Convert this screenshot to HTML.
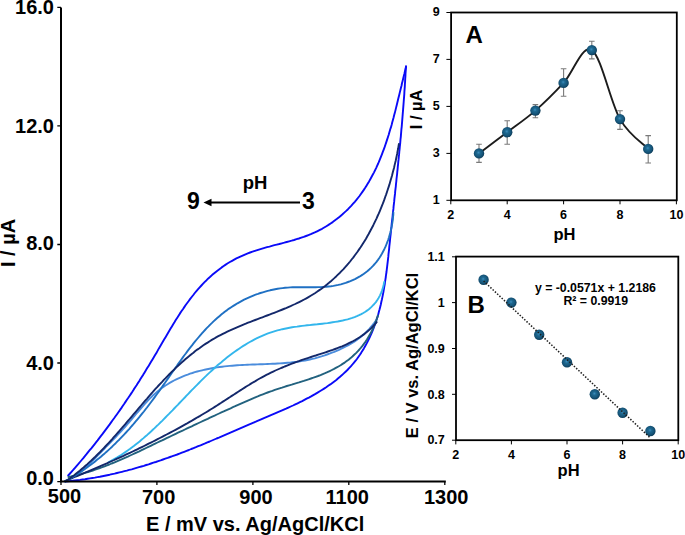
<!DOCTYPE html>
<html><head><meta charset="utf-8">
<style>
html,body{margin:0;padding:0;background:#fff;}
body{width:685px;height:535px;overflow:hidden;}
svg{display:block;}
text{font-family:"Liberation Sans",sans-serif;font-weight:bold;fill:#000;}
</style></head>
<body>
<svg width="685" height="535" viewBox="0 0 685 535">
<defs>
<radialGradient id="sph" cx="0.45" cy="0.45" r="0.56" fx="0.46" fy="0.42">
<stop offset="0" stop-color="#3c8dbd"/>
<stop offset="0.3" stop-color="#1e6890"/>
<stop offset="0.7" stop-color="#165579"/>
<stop offset="0.9" stop-color="#0f4464"/>
<stop offset="1" stop-color="#0c3a55"/>
</radialGradient>
</defs>

<g fill="none" stroke-width="1.9" stroke-linejoin="round" stroke-linecap="round">
<path stroke="#0a0af8" d="M68.2 475.5 70.0 473.5 71.7 471.6 73.4 469.7 75.0 467.8 76.7 465.8 78.4 463.9 80.0 462.0 81.7 460.0 83.3 458.1 84.9 456.1 86.5 454.2 88.1 452.2 89.7 450.2 91.3 448.3 92.9 446.3 94.5 444.3 96.0 442.4 97.6 440.4 99.1 438.4 100.6 436.4 102.2 434.4 103.7 432.4 105.2 430.4 106.7 428.4 108.2 426.4 109.7 424.4 111.1 422.4 112.6 420.3 114.1 418.3 115.5 416.3 117.0 414.2 118.4 412.2 119.9 410.1 121.3 408.1 122.7 406.0 124.1 404.0 125.5 401.9 126.9 399.8 128.3 397.8 129.7 395.7 131.1 393.6 132.5 391.5 133.8 389.4 135.2 387.3 136.6 385.2 137.9 383.1 139.3 381.0 140.6 378.8 141.9 376.7 143.3 374.6 144.6 372.4 145.9 370.3 147.2 368.1 148.6 365.9 149.9 363.8 151.2 361.6 152.5 359.4 153.8 357.2 155.1 355.1 156.4 352.9 157.7 350.6 158.9 348.4 160.2 346.2 161.5 344.0 162.8 341.8 164.1 339.6 165.4 337.4 166.7 335.2 168.0 333.0 169.3 330.8 170.6 328.6 171.9 326.4 173.2 324.2 174.6 322.0 175.9 319.8 177.3 317.7 178.7 315.5 180.0 313.4 181.4 311.3 182.9 309.2 184.3 307.1 185.7 305.0 187.2 303.0 188.7 301.0 190.2 298.9 191.7 297.0 193.3 295.0 194.8 293.0 196.4 291.1 198.1 289.2 199.7 287.4 201.4 285.5 203.1 283.7 204.8 281.9 206.6 280.2 208.3 278.4 210.2 276.8 212.0 275.1 213.9 273.5 215.8 271.9 217.7 270.4 219.7 268.9 221.7 267.4 223.7 266.0 225.7 264.6 227.8 263.3 229.9 262.0 232.1 260.8 234.2 259.6 236.4 258.4 238.7 257.3 240.9 256.3 243.2 255.3 245.5 254.3 247.8 253.4 250.1 252.5 252.5 251.7 254.9 250.9 257.3 250.1 259.7 249.3 262.1 248.6 264.6 247.9 267.0 247.2 269.5 246.6 271.9 245.9 274.4 245.2 276.8 244.6 279.3 244.0 281.8 243.3 284.3 242.7 286.7 242.0 289.2 241.3 291.6 240.7 294.1 240.0 296.5 239.2 298.9 238.5 301.3 237.7 303.7 236.9 306.1 236.0 308.4 235.1 310.8 234.2 313.1 233.2 315.4 232.2 317.6 231.1 319.9 229.9 322.1 228.8 324.2 227.5 326.4 226.2 328.5 224.9 330.6 223.5 332.7 222.1 334.7 220.6 336.7 219.1 338.7 217.5 340.6 215.9 342.5 214.3 344.3 212.6 346.2 210.9 348.0 209.2 349.7 207.4 351.4 205.6 353.1 203.7 354.8 201.8 356.4 199.9 357.9 198.0 359.5 196.0 360.9 194.0 362.4 191.9 363.8 189.9 365.2 187.8 366.5 185.7 367.8 183.6 369.1 181.4 370.3 179.2 371.5 177.0 372.7 174.8 373.9 172.6 375.0 170.3 376.1 168.1 377.1 165.8 378.2 163.5 379.2 161.1 380.1 158.8 381.1 156.4 382.0 154.1 382.9 151.7 383.8 149.3 384.7 146.9 385.5 144.5 386.3 142.1 387.1 139.6 387.9 137.2 388.7 134.8 389.4 132.3 390.1 129.8 390.9 127.4 391.6 124.9 392.2 122.5 392.9 120.0 393.6 117.5 394.2 115.0 394.9 112.6 395.5 110.1 396.1 107.6 396.7 105.2 397.3 102.7 397.9 100.3 398.5 97.8 399.1 95.4 399.7 92.9 400.3 90.5 400.9 88.1 401.5 85.7 402.0 83.3 402.6 80.9 403.2 78.5 403.8 76.1 404.4 73.8 404.9 71.4 405.5 69.1 406.1 66.8"/>
<path stroke="#0a0af8" d="M406.0 66.1 405.8 68.7 405.7 71.2 405.5 73.8 405.4 76.4 405.2 78.9 405.1 81.5 404.9 84.0 404.8 86.6 404.6 89.1 404.4 91.6 404.3 94.2 404.1 96.7 403.9 99.2 403.7 101.8 403.5 104.3 403.3 106.8 403.1 109.3 402.9 111.8 402.7 114.3 402.5 116.8 402.3 119.3 402.1 121.8 401.9 124.3 401.7 126.8 401.4 129.3 401.2 131.8 401.0 134.3 400.8 136.8 400.5 139.3 400.3 141.8 400.1 144.3 399.8 146.7 399.6 149.2 399.3 151.7 399.1 154.2 398.8 156.7 398.6 159.2 398.3 161.6 398.1 164.1 397.8 166.6 397.6 169.1 397.3 171.6 397.1 174.0 396.8 176.5 396.5 179.0 396.3 181.5 396.0 184.0 395.8 186.5 395.5 188.9 395.2 191.4 395.0 193.9 394.7 196.4 394.4 198.9 394.2 201.4 393.9 203.9 393.6 206.4 393.4 208.9 393.1 211.3 392.8 213.8 392.6 216.3 392.3 218.9 392.0 221.4 391.7 223.9 391.5 226.4 391.2 228.9 390.9 231.4 390.7 233.9 390.4 236.4 390.1 239.0 389.9 241.5 389.6 244.0 389.3 246.6 389.1 249.1 388.8 251.7 388.5 254.2 388.3 256.7 388.0 259.3 387.7 261.8 387.4 264.4 387.1 266.9 386.8 269.4 386.5 272.0 386.1 274.5 385.8 277.0 385.4 279.6 385.0 282.1 384.7 284.6 384.2 287.1 383.8 289.6 383.4 292.1 382.9 294.6 382.4 297.1 381.9 299.5 381.3 302.0 380.8 304.5 380.2 306.9 379.6 309.3 378.9 311.8 378.3 314.2 377.6 316.6 376.8 318.9 376.0 321.3 375.2 323.7 374.4 326.0 373.5 328.3 372.6 330.6 371.7 332.9 370.7 335.2 369.6 337.5 368.6 339.7 367.5 341.9 366.3 344.1 365.1 346.3 363.9 348.4 362.6 350.5 361.3 352.6 359.9 354.7 358.5 356.7 357.1 358.7 355.6 360.7 354.0 362.6 352.4 364.5 350.8 366.4 349.1 368.2 347.4 370.0 345.6 371.7 343.8 373.4 342.0 375.1 340.1 376.7 338.2 378.3 336.3 379.9 334.3 381.4 332.3 382.9 330.3 384.4 328.2 385.8 326.2 387.2 324.1 388.6 321.9 390.0 319.8 391.3 317.6 392.6 315.5 393.9 313.3 395.1 311.1 396.4 308.9 397.6 306.6 398.7 304.4 399.9 302.2 401.1 299.9 402.2 297.6 403.3 295.3 404.4 293.0 405.5 290.7 406.5 288.4 407.6 286.1 408.7 283.8 409.7 281.5 410.7 279.1 411.7 276.8 412.7 274.5 413.7 272.1 414.7 269.8 415.7 267.5 416.7 265.1 417.7 262.8 418.7 260.5 419.7 258.1 420.7 255.8 421.7 253.5 422.6 251.2 423.6 248.8 424.6 246.5 425.6 244.2 426.6 241.9 427.6 239.6 428.6 237.3 429.6 235.0 430.6 232.7 431.6 230.4 432.6 228.1 433.6 225.8 434.6 223.5 435.6 221.2 436.6 218.9 437.6 216.6 438.5 214.3 439.5 212.0 440.5 209.7 441.5 207.4 442.4 205.1 443.4 202.8 444.3 200.5 445.3 198.2 446.2 195.9 447.2 193.6 448.1 191.2 449.0 188.9 450.0 186.6 450.9 184.2 451.8 181.9 452.7 179.5 453.6 177.2 454.5 174.8 455.3 172.4 456.2 170.1 457.0 167.7 457.9 165.3 458.7 163.0 459.5 160.6 460.4 158.2 461.2 155.8 462.0 153.4 462.7 151.0 463.5 148.6 464.3 146.2 465.0 143.8 465.8 141.4 466.5 139.0 467.2 136.5 467.9 134.1 468.6 131.7 469.3 129.2 469.9 126.8 470.6 124.4 471.2 121.9 471.8 119.5 472.4 117.0 473.0 114.6 473.6 112.1 474.1 109.7 474.7 107.2 475.2 104.8 475.7 102.3 476.2 99.8 476.7 97.4 477.1 94.9 477.6 92.4 478.0 89.9 478.4 87.5 478.8 85.0 479.2 82.5 479.5 80.0 479.9 77.5 480.2 75.0 480.5 72.5 480.8 70.0 481.0 67.5 481.2 65.0 481.5"/>
<path stroke="#4a8cdc" d="M65.7 481.3 68.0 480.2 70.2 479.0 72.4 477.7 74.5 476.4 76.5 475.0 78.6 473.5 80.6 471.9 82.5 470.3 84.4 468.6 86.3 466.9 88.1 465.2 90.0 463.4 91.8 461.7 93.6 459.9 95.3 458.0 97.1 456.2 98.8 454.4 100.6 452.6 102.3 450.8 104.1 449.0 105.8 447.2 107.6 445.4 109.3 443.6 111.0 441.8 112.7 440.1 114.5 438.3 116.2 436.5 117.9 434.7 119.6 432.8 121.3 431.0 123.0 429.2 124.7 427.3 126.4 425.4 128.0 423.5 129.7 421.6 131.4 419.7 133.0 417.7 134.7 415.7 136.3 413.7 138.0 411.8 139.7 409.8 141.4 407.8 143.1 405.9 144.8 403.9 146.5 402.0 148.3 400.1 150.0 398.3 151.9 396.5 153.7 394.8 155.6 393.1 157.5 391.4 159.4 389.9 161.4 388.3 163.4 386.9 165.5 385.5 167.6 384.2 169.7 382.9 171.9 381.7 174.0 380.5 176.3 379.4 178.5 378.3 180.8 377.3 183.0 376.3 185.4 375.4 187.7 374.6 190.1 373.7 192.4 373.0 194.8 372.2 197.2 371.5 199.7 370.9 202.1 370.3 204.6 369.7 207.0 369.2 209.5 368.7 212.0 368.2 214.5 367.8 217.0 367.4 219.5 367.0 222.1 366.7 224.6 366.4 227.1 366.1 229.6 365.9 232.2 365.7 234.7 365.5 237.2 365.3 239.7 365.1 242.3 365.0 244.8 364.9 247.3 364.7 249.8 364.6 252.4 364.5 254.9 364.5 257.4 364.4 259.9 364.3 262.5 364.2 265.0 364.1 267.5 364.0 270.0 363.9 272.5 363.8 275.0 363.7 277.5 363.5 280.0 363.4 282.5 363.2 285.0 363.0 287.5 362.8 290.0 362.6 292.5 362.3 295.0 362.0 297.5 361.7 300.0 361.3 302.5 360.9 305.0 360.5 307.5 360.0 309.9 359.5 312.4 358.9 314.9 358.3 317.3 357.6 319.8 356.9 322.2 356.2 324.7 355.4 327.1 354.5 329.5 353.7 331.9 352.7 334.3 351.8 336.6 350.8 339.0 349.8 341.3 348.7 343.5 347.6 345.8 346.5 348.0 345.4 350.1 344.2 352.2 342.9 354.3 341.6 356.4 340.2 358.4 338.8 360.3 337.3 362.2 335.7 364.1 334.1 365.9 332.4 367.6 330.6 369.4 328.8 371.0 326.8 372.7 324.9 374.3 322.8 375.8 320.7"/>
<path stroke="#33b6ec" d="M108.5 462.3 110.7 461.1 112.9 459.9 115.1 458.6 117.3 457.4 119.4 456.0 121.5 454.7 123.6 453.3 125.7 451.9 127.7 450.5 129.8 449.0 131.8 447.5 133.8 446.0 135.7 444.5 137.7 442.9 139.6 441.4 141.5 439.8 143.5 438.1 145.3 436.5 147.2 434.9 149.1 433.2 151.0 431.5 152.8 429.8 154.6 428.1 156.4 426.3 158.3 424.6 160.1 422.8 161.9 421.1 163.6 419.3 165.4 417.5 167.2 415.7 169.0 413.9 170.7 412.1 172.5 410.3 174.2 408.5 176.0 406.6 177.8 404.8 179.5 403.0 181.3 401.1 183.0 399.3 184.8 397.5 186.5 395.7 188.3 393.8 190.0 392.0 191.8 390.2 193.6 388.4 195.3 386.6 197.1 384.8 198.9 383.0 200.7 381.2 202.5 379.4 204.3 377.6 206.1 375.9 207.9 374.1 209.8 372.4 211.6 370.7 213.5 369.0 215.4 367.3 217.2 365.6 219.1 364.0 221.1 362.4 223.0 360.8 224.9 359.2 226.9 357.6 228.9 356.0 230.9 354.5 232.9 353.0 235.0 351.5 237.0 350.1 239.1 348.7 241.2 347.3 243.3 345.9 245.5 344.6 247.6 343.3 249.8 342.0 252.0 340.8 254.2 339.6 256.5 338.4 258.7 337.3 261.0 336.3 263.3 335.3 265.6 334.3 268.0 333.4 270.3 332.6 272.7 331.8 275.0 331.1 277.4 330.4 279.8 329.8 282.3 329.2 284.7 328.7 287.2 328.2 289.6 327.7 292.1 327.3 294.6 326.9 297.0 326.6 299.5 326.2 302.1 325.9 304.6 325.6 307.1 325.3 309.6 325.1 312.2 324.8 314.7 324.5 317.3 324.3 319.8 324.0 322.4 323.7 324.9 323.4 327.5 323.1 330.1 322.7 332.6 322.3 335.2 321.9 337.7 321.5 340.2 321.0 342.7 320.5 345.2 319.9 347.6 319.3 350.0 318.6 352.3 317.9 354.6 317.1 356.9 316.2 359.1 315.2 361.3 314.1 363.3 313.0 365.4 311.7 367.3 310.4 369.2 309.0 371.0 307.4 372.7 305.7 374.3 304.0 375.9 302.1 377.3 300.0 378.6 297.9 379.9 295.6 381.0 293.2 382.0 290.6 382.9 287.9 383.6 285.0 384.2 282.0"/>
<path stroke="#22627f" d="M68.5 477.0 70.9 476.5 73.4 475.9 75.9 475.4 78.3 474.7 80.7 474.1 83.2 473.4 85.6 472.7 88.0 472.0 90.4 471.3 92.8 470.5 95.2 469.7 97.5 468.9 99.9 468.0 102.3 467.2 104.6 466.3 107.0 465.4 109.3 464.5 111.6 463.5 114.0 462.6 116.3 461.6 118.6 460.6 120.9 459.6 123.2 458.6 125.5 457.6 127.8 456.6 130.1 455.5 132.4 454.5 134.7 453.4 137.0 452.3 139.3 451.3 141.6 450.2 143.8 449.1 146.1 448.0 148.4 446.9 150.7 445.8 153.0 444.7 155.2 443.6 157.5 442.5 159.8 441.4 162.1 440.4 164.3 439.3 166.6 438.2 168.9 437.1 171.2 436.0 173.5 434.9 175.7 433.8 178.0 432.7 180.3 431.6 182.6 430.6 184.9 429.5 187.1 428.4 189.4 427.3 191.7 426.3 194.0 425.2 196.3 424.1 198.6 423.0 200.8 422.0 203.1 420.9 205.4 419.8 207.7 418.8 210.0 417.7 212.3 416.6 214.6 415.6 216.9 414.5 219.1 413.5 221.4 412.4 223.7 411.4 226.0 410.3 228.3 409.3 230.6 408.3 232.9 407.2 235.2 406.2 237.5 405.1 239.8 404.1 242.1 403.1 244.4 402.1 246.7 401.1 249.0 400.1 251.3 399.1 253.6 398.1 255.9 397.1 258.3 396.2 260.6 395.2 262.9 394.3 265.3 393.4 267.6 392.5 270.0 391.6 272.4 390.8 274.8 389.9 277.2 389.1 279.6 388.3 282.0 387.6 284.4 386.8 286.8 386.0 289.2 385.3 291.7 384.6 294.1 383.8 296.5 383.1 299.0 382.4 301.4 381.6 303.8 380.9 306.2 380.1 308.6 379.3 311.0 378.5 313.4 377.7 315.8 376.8 318.1 376.0 320.5 375.1 322.8 374.1 325.1 373.2 327.4 372.2 329.7 371.1 331.9 370.0 334.1 368.9 336.3 367.7 338.5 366.5 340.6 365.3 342.6 363.9 344.7 362.6 346.7 361.1 348.6 359.7 350.6 358.1 352.4 356.5 354.2 354.8 356.0 353.1 357.7 351.3 359.4 349.5 361.0 347.6 362.6 345.6 364.1 343.6 365.6 341.6 367.0 339.5 368.3 337.3 369.6 335.1 370.9 332.8 372.0 330.5 373.2 328.1 374.2 325.7 375.2 323.2 376.2 320.7 377.0 318.2 377.9 315.6"/>
<path stroke="#13286b" d="M65.3 480.8 67.7 479.9 70.0 478.9 72.4 478.0 74.7 477.0 77.1 476.0 79.4 475.1 81.8 474.1 84.1 473.1 86.4 472.1 88.8 471.1 91.1 470.1 93.4 469.1 95.8 468.1 98.1 467.1 100.4 466.1 102.7 465.1 105.1 464.1 107.4 463.1 109.7 462.0 112.0 461.0 114.3 460.0 116.6 458.9 118.9 457.9 121.2 456.8 123.5 455.8 125.8 454.7 128.1 453.6 130.4 452.6 132.7 451.5 135.0 450.4 137.3 449.3 139.5 448.2 141.8 447.1 144.1 446.0 146.3 444.9 148.6 443.7 150.9 442.6 153.1 441.5 155.4 440.3 157.6 439.2 159.9 438.0 162.1 436.9 164.4 435.7 166.6 434.5 168.8 433.4 171.1 432.2 173.3 431.0 175.5 429.8 177.7 428.6 180.0 427.3 182.2 426.1 184.4 424.9 186.6 423.7 188.8 422.4 191.0 421.2 193.2 419.9 195.3 418.6 197.5 417.3 199.7 416.1 201.9 414.8 204.0 413.5 206.2 412.2 208.4 410.9 210.5 409.5 212.7 408.2 214.8 406.9 217.0 405.5 219.1 404.1 221.2 402.8 223.3 401.4 225.5 400.0 227.6 398.6 229.7 397.3 231.8 395.9 234.0 394.5 236.1 393.1 238.2 391.7 240.3 390.4 242.5 389.0 244.6 387.6 246.7 386.3 248.9 385.0 251.0 383.6 253.2 382.3 255.4 381.1 257.5 379.8 259.7 378.5 261.9 377.3 264.2 376.1 266.4 374.9 268.6 373.8 270.9 372.7 273.2 371.6 275.4 370.5 277.7 369.5 280.0 368.5 282.4 367.5 284.7 366.5 287.0 365.6 289.4 364.6 291.8 363.7 294.1 362.8 296.5 361.9 298.9 361.1 301.3 360.2 303.7 359.4 306.1 358.6 308.5 357.8 311.0 357.0 313.4 356.2 315.8 355.5 318.2 354.7 320.7 353.9 323.1 353.1 325.5 352.3 327.9 351.5 330.3 350.7 332.7 349.9 335.1 349.0 337.4 348.1 339.8 347.2 342.1 346.3 344.4 345.3 346.6 344.3 348.9 343.2 351.1 342.1 353.3 341.0 355.5 339.8 357.6 338.5 359.7 337.2 361.8 335.8 363.8 334.4 365.8 332.8 367.7 331.3 369.6 329.6 371.5 327.9 373.3 326.0 375.0 324.1 376.7 322.1"/>
<path stroke="#1f70c3" d="M65.2 481.4 67.5 480.1 69.8 478.8 72.0 477.5 74.2 476.1 76.4 474.7 78.6 473.3 80.7 471.9 82.8 470.5 84.9 469.0 87.0 467.5 89.0 466.0 91.1 464.5 93.1 463.0 95.1 461.4 97.0 459.8 99.0 458.3 100.9 456.7 102.8 455.0 104.7 453.4 106.6 451.7 108.4 450.1 110.3 448.4 112.1 446.7 113.9 444.9 115.7 443.2 117.4 441.4 119.2 439.7 120.9 437.9 122.6 436.1 124.3 434.3 126.0 432.5 127.7 430.6 129.4 428.8 131.0 426.9 132.7 425.0 134.3 423.1 135.9 421.2 137.5 419.3 139.1 417.4 140.7 415.4 142.3 413.4 143.9 411.5 145.4 409.5 147.0 407.5 148.5 405.5 150.0 403.5 151.5 401.5 153.1 399.4 154.6 397.4 156.1 395.3 157.6 393.3 159.1 391.2 160.5 389.1 162.0 387.0 163.5 384.9 165.0 382.8 166.4 380.7 167.9 378.6 169.4 376.5 170.8 374.4 172.3 372.3 173.8 370.2 175.3 368.1 176.8 366.0 178.2 363.9 179.7 361.8 181.2 359.7 182.7 357.6 184.2 355.5 185.8 353.5 187.3 351.4 188.8 349.4 190.4 347.4 192.0 345.4 193.5 343.4 195.1 341.4 196.7 339.5 198.4 337.5 200.0 335.6 201.7 333.7 203.3 331.8 205.0 330.0 206.7 328.2 208.5 326.4 210.2 324.6 212.0 322.9 213.8 321.1 215.6 319.5 217.5 317.8 219.4 316.2 221.3 314.6 223.2 313.1 225.1 311.5 227.1 310.1 229.1 308.6 231.2 307.2 233.3 305.9 235.4 304.6 237.5 303.3 239.7 302.1 241.9 300.9 244.1 299.7 246.4 298.6 248.6 297.6 250.9 296.6 253.3 295.6 255.6 294.7 258.0 293.9 260.4 293.0 262.8 292.3 265.2 291.6 267.7 290.9 270.1 290.3 272.6 289.8 275.1 289.3 277.6 288.8 280.1 288.4 282.6 288.1 285.1 287.8 287.7 287.6 290.2 287.4 292.7 287.3 295.3 287.2 297.8 287.2 300.4 287.2 302.9 287.2 305.5 287.2 308.0 287.2 310.6 287.2 313.1 287.2 315.7 287.2 318.2 287.1 320.8 287.1 323.3 286.9 325.8 286.8 328.4 286.5 330.9 286.3 333.4 285.9 335.9 285.4 338.3 284.9 340.8 284.3 343.2 283.6 345.7 282.9 348.0 282.0 350.4 281.1 352.7 280.1 355.0 279.1 357.2 277.9 359.4 276.7 361.5 275.4 363.6 274.0 365.6 272.5 367.6 271.0 369.5 269.3 371.3 267.6 373.0 265.9 374.7 264.0 376.3 262.1 377.8 260.1 379.3 258.0 380.6 255.9 381.9 253.7 383.1 251.5 384.3 249.2 385.4 246.9 386.4 244.5 387.3 242.2 388.2 239.7 389.0 237.3 389.7 234.8 390.4 232.3 391.0 229.9 391.5 227.4 392.0 224.9 392.4 222.4 392.8 219.9 393.0 217.4 393.3 214.9 393.4 212.5"/>
<path stroke="#13286b" d="M65.7 481.3 67.8 479.9 69.8 478.4 71.8 476.9 73.9 475.4 75.9 473.8 77.8 472.3 79.8 470.7 81.7 469.1 83.6 467.5 85.5 465.8 87.4 464.1 89.2 462.4 91.1 460.7 92.9 459.0 94.7 457.3 96.5 455.5 98.3 453.7 100.1 452.0 101.8 450.2 103.6 448.3 105.3 446.5 107.0 444.7 108.8 442.8 110.5 441.0 112.2 439.1 113.8 437.2 115.5 435.3 117.2 433.4 118.9 431.5 120.5 429.6 122.2 427.7 123.8 425.8 125.5 423.9 127.1 421.9 128.8 420.0 130.4 418.1 132.1 416.1 133.7 414.2 135.3 412.3 137.0 410.3 138.6 408.4 140.3 406.5 141.9 404.5 143.5 402.6 145.2 400.7 146.9 398.8 148.5 396.8 150.2 394.9 151.9 393.0 153.5 391.1 155.2 389.2 156.9 387.4 158.6 385.5 160.4 383.6 162.1 381.8 163.8 379.9 165.6 378.1 167.3 376.3 169.1 374.5 170.9 372.7 172.7 370.9 174.5 369.2 176.3 367.4 178.1 365.7 180.0 364.0 181.9 362.3 183.7 360.7 185.6 359.0 187.5 357.4 189.5 355.8 191.4 354.2 193.4 352.7 195.3 351.1 197.3 349.6 199.4 348.2 201.4 346.7 203.4 345.3 205.5 343.9 207.6 342.6 209.7 341.2 211.8 339.9 214.0 338.7 216.1 337.4 218.3 336.2 220.5 335.1 222.8 333.9 225.0 332.8 227.3 331.7 229.5 330.6 231.8 329.6 234.1 328.6 236.4 327.6 238.7 326.6 241.1 325.6 243.4 324.6 245.8 323.7 248.1 322.7 250.5 321.8 252.8 320.9 255.2 320.0 257.6 319.1 260.0 318.2 262.4 317.3 264.7 316.4 267.1 315.5 269.5 314.6 271.9 313.7 274.2 312.8 276.6 311.9 279.0 310.9 281.3 310.0 283.7 309.0 286.0 308.1 288.3 307.1 290.6 306.1 292.9 305.0 295.2 304.0 297.5 302.9 299.7 301.8 302.0 300.7 304.2 299.5 306.4 298.3 308.5 297.1 310.7 295.8 312.8 294.5 314.9 293.2 317.0 291.8 319.0 290.4 321.1 288.9 323.1 287.4 325.1 285.9 327.0 284.4 329.0 282.8 330.9 281.2 332.7 279.6 334.6 277.9 336.4 276.2 338.2 274.4 340.0 272.7 341.7 270.9 343.5 269.1 345.2 267.2 346.8 265.3 348.5 263.4 350.1 261.5 351.6 259.5 353.2 257.6 354.7 255.5 356.2 253.5 357.7 251.5 359.1 249.4 360.6 247.3 361.9 245.2 363.3 243.0 364.6 240.9 366.0 238.7 367.2 236.5 368.5 234.3 369.7 232.0 370.9 229.8 372.1 227.5 373.3 225.2 374.4 222.9 375.5 220.6 376.6 218.3 377.6 216.0 378.7 213.7 379.7 211.3 380.7 208.9 381.6 206.6 382.6 204.2 383.5 201.8 384.4 199.4 385.2 197.0 386.1 194.6 386.9 192.2 387.7 189.8 388.5 187.4 389.3 184.9 390.0 182.5 390.7 180.1 391.4 177.7 392.1 175.2 392.7 172.8 393.3 170.4 394.0 168.0 394.5 165.6 395.1 163.1 395.7 160.7 396.2 158.3 396.7 155.9 397.2 153.5 397.6 151.1 398.1 148.8 398.5 146.4 398.9 144.0"/>
</g>
<g stroke="#000" fill="none">
<path stroke-width="2" d="M61 7.4V482.6M60 481.6H445.8"/>
<path stroke-width="1.3" d="M57.3 481.6H61M57.3 363H61M57.3 244.5H61M57.3 125.9H61M57.3 7.4H61"/>
<path stroke-width="1.3" d="M61 481.6V485M156.9 481.6V485M252.9 481.6V485M348.8 481.6V485M444.8 481.6V485"/>
</g>
<g font-size="20" text-anchor="end">
<text x="54" y="14.4">16.0</text>
<text x="54" y="132.9">12.0</text>
<text x="54" y="250.1">8.0</text>
<text x="54" y="370.1">4.0</text>
<text x="54" y="485.1">0.0</text>
</g>
<g font-size="20" text-anchor="middle">
<text x="64.5" y="502.6">500</text>
<text x="158.7" y="504.3">700</text>
<text x="256" y="504.3">900</text>
<text x="347.3" y="504.3">1100</text>
<text x="446.2" y="504.3">1300</text>
</g>
<text x="146" y="531" font-size="20">E / mV vs. Ag/AgCl/KCl</text>
<text transform="translate(14.5 243) rotate(-90)" font-size="20" text-anchor="middle">I / µA</text>
<text x="255" y="189" font-size="18.5" text-anchor="middle">pH</text>
<text x="193.5" y="209" font-size="23" text-anchor="middle">9</text>
<text x="308.5" y="209" font-size="23" text-anchor="middle">3</text>
<path d="M209 202.5H300" stroke="#000" stroke-width="2"/>
<path d="M203.5 202.5L211.5 198.8V206.2Z" fill="#000"/>
<rect x="451.1" y="12.5" width="225.7" height="187.8" fill="none" stroke="#000" stroke-width="1.8"/>
<g stroke="#000" stroke-width="1" fill="none"><path d="M446.4 200.3H451.1M446.4 153.4H451.1M446.4 106.4H451.1M446.4 59.4H451.1M446.4 12.5H451.1M450.8 200.3V204.3M507.2 200.3V204.3M563.6 200.3V204.3M620 200.3V204.3M676.4 200.3V204.3"/></g>
<g font-size="12.5" text-anchor="end">
<text x="439.8" y="204.1">1</text>
<text x="439.8" y="157.2">3</text>
<text x="439.8" y="110.2">5</text>
<text x="439.8" y="63.2">7</text>
<text x="439.8" y="16.3">9</text>
</g><g font-size="12.5" text-anchor="middle">
<text x="450.8" y="218.8">2</text>
<text x="507.2" y="218.8">4</text>
<text x="563.6" y="218.8">6</text>
<text x="620" y="218.8">8</text>
<text x="676.4" y="218.8">10</text>
</g>
<text x="564.4" y="239.6" font-size="16.5" text-anchor="middle">pH</text>
<text transform="translate(421.8 109.4) rotate(-90)" font-size="16.5" text-anchor="middle">I / µA</text>
<text x="465.5" y="43.3" font-size="24">A</text>
<g stroke="#7a7a7a" stroke-width="1.1" fill="none"><path d="M479 144.3V162.4M476.2 144.3H481.8M476.2 162.4H481.8M507.2 120.7V144.3M504.4 120.7H510M504.4 144.3H510M535.4 104.6V117.7M532.6 104.6H538.2M532.6 117.7H538.2M563.6 68.7V96.2M560.8 68.7H566.4M560.8 96.2H566.4M591.8 41.2V58.9M589 41.2H594.6M589 58.9H594.6M620 110.7V129.4M617.2 110.7H622.8M617.2 129.4H622.8M648.2 135.6V163M645.4 135.6H651M645.4 163H651"/></g>
<path d="M479 153.4C483.7 149.8 497.8 139.3 507.2 132.2C516.6 125.1 526 118.8 535.4 110.6C544.8 102.4 554.2 93 563.6 82.9C573 72.8 582.4 44 591.8 50.1C601.2 56.1 610.6 102.6 620 119.1C629.4 135.5 643.5 143.9 648.2 148.9" fill="none" stroke="#1c1c1c" stroke-width="1.9"/>
<circle cx="479" cy="153.4" r="5.2" fill="url(#sph)"/>
<circle cx="507.2" cy="132.2" r="5.2" fill="url(#sph)"/>
<circle cx="535.4" cy="110.6" r="5.2" fill="url(#sph)"/>
<circle cx="563.6" cy="82.9" r="5.2" fill="url(#sph)"/>
<circle cx="591.8" cy="50.1" r="5.2" fill="url(#sph)"/>
<circle cx="620" cy="119.1" r="5.2" fill="url(#sph)"/>
<circle cx="648.2" cy="148.9" r="5.2" fill="url(#sph)"/>
<rect x="456" y="256.6" width="222.3" height="183.6" fill="none" stroke="#000" stroke-width="1.8"/>
<g stroke="#000" stroke-width="1" fill="none"><path d="M452 440.2H456M452 394.3H456M452 348.5H456M452 302.6H456M452 256.8H456M455.8 440.2V444.4M511.4 440.2V444.4M567 440.2V444.4M622.6 440.2V444.4M678.2 440.2V444.4"/></g>
<g font-size="12.5" text-anchor="end">
<text x="444.8" y="444.4">0.7</text>
<text x="444.8" y="398.5">0.8</text>
<text x="444.8" y="352.7">0.9</text>
<text x="444.8" y="306.8">1</text>
<text x="444.8" y="261">1.1</text>
</g><g font-size="12.5" text-anchor="middle">
<text x="455.8" y="458.8">2</text>
<text x="511.4" y="458.8">4</text>
<text x="567" y="458.8">6</text>
<text x="622.6" y="458.8">8</text>
<text x="678.2" y="458.8">10</text>
</g>
<text x="568.6" y="475.9" font-size="16.5" text-anchor="middle">pH</text>
<text transform="translate(418.1 355.5) rotate(-90)" font-size="16.5" text-anchor="middle">E / V vs. Ag/AgCl/KCl</text>
<text x="467.5" y="313" font-size="24">B</text>
<text x="595.4" y="291.5" font-size="12.3" text-anchor="middle">y = -0.0571x + 1.2186</text>
<text x="595.7" y="305.2" font-size="12.3" text-anchor="middle">R² = 0.9919</text>
<circle cx="483.6" cy="279.7" r="5.2" fill="url(#sph)"/>
<circle cx="511.4" cy="302.6" r="5.2" fill="url(#sph)"/>
<circle cx="539.2" cy="334.7" r="5.2" fill="url(#sph)"/>
<circle cx="567" cy="362.3" r="5.2" fill="url(#sph)"/>
<circle cx="594.8" cy="394.3" r="5.2" fill="url(#sph)"/>
<circle cx="622.6" cy="412.7" r="5.2" fill="url(#sph)"/>
<circle cx="650.4" cy="431" r="5.2" fill="url(#sph)"/>
<path d="M483.6 281L650.4 438" stroke="#1e1e1e" stroke-width="1.5" stroke-dasharray="1.5 1.6" fill="none"/>
</svg>
</body></html>
